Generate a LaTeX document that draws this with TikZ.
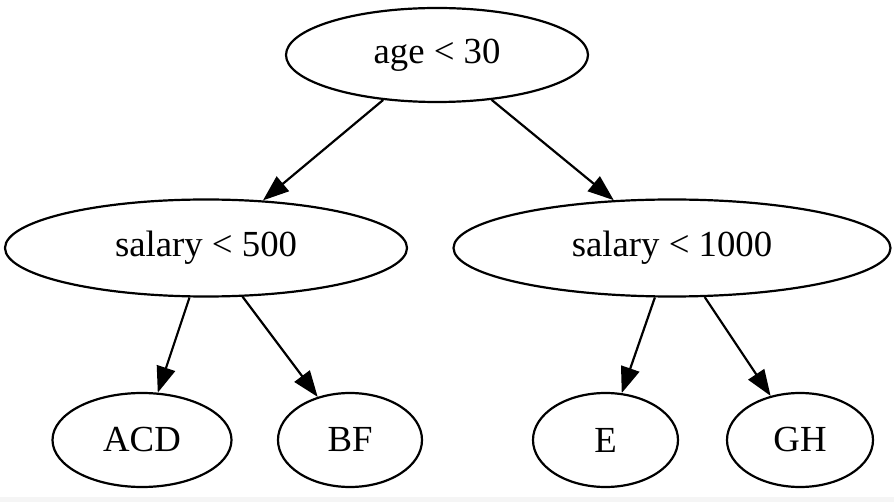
\documentclass[tikz,border=0pt]{standalone}
\usepackage{fontspec}
\setmainfont{Liberation Serif}
\usepackage{tikz}
\usetikzlibrary{shapes.geometric,arrows.meta}

\begin{document}
\begin{tikzpicture}[x=1pt,y=-1pt]
\tikzstyle{every node}+=[inner sep=0pt]
\tikzstyle{test}=[draw=black, line width=2.2pt, ellipse, font=\fontsize{36.75}{44}\selectfont]
\tikzstyle{edge}=[black, line width=2.2pt, -{Triangle[length=26pt,width=19pt]}]
\useasboundingbox (0,0) rectangle (894,502);
\fill [black!4] (0,497) rectangle (894,502);
% root and second level
\node (age) at (437,55) [test, minimum width=302pt, minimum height=94pt] {age < 30};
\node (sal500) at (206,248) [test, minimum width=402pt, minimum height=97pt] {salary < 500};
\node (sal1000) at (672,248) [test, minimum width=437pt, minimum height=97pt] {salary < 1000};
% leaves
\node (acd) at (142,440) [test, minimum width=179pt, minimum height=94pt] {ACD};
\node (bf) at (350,440) [test, minimum width=144pt, minimum height=94pt] {BF};
\node (e) at (605.5,440) [test, minimum width=145pt, minimum height=94pt] {E};
\node (gh) at (800,440) [test, minimum width=146pt, minimum height=94pt] {GH};
\draw [edge] (age) -- (sal500);
\draw [edge] (age) -- (sal1000);
\draw [edge] (sal500) -- (acd);
\draw [edge] (sal500) -- (bf);
\draw [edge] (sal1000) -- (e);
\draw [edge] (sal1000) -- (gh);
\end{tikzpicture}
\end{document}
